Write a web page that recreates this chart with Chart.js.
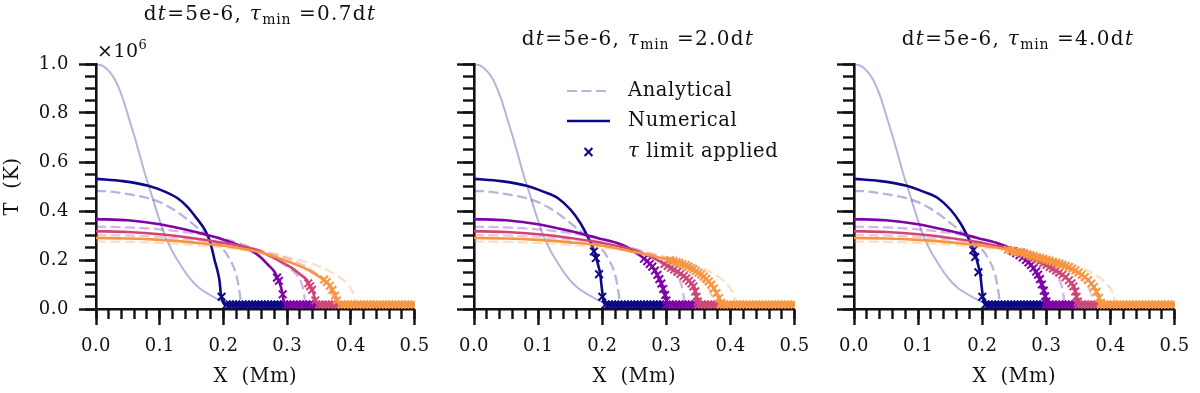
<!DOCTYPE html>
<html><head><meta charset="utf-8">
<script src="https://cdn.jsdelivr.net/npm/chart.js@4.4.1/dist/chart.umd.min.js"></script>
<style>
html,body{margin:0;padding:0;background:#fff;}
#wrap{position:relative;width:1200px;height:393px;overflow:hidden;background:#fff;font-family:'DejaVu Serif',serif;color:#111;}
canvas{position:absolute;top:0;}
.title{position:absolute;font-size:20px;letter-spacing:1.3px;white-space:nowrap;transform:translateX(-50%);line-height:24px;}
.title sub{font-size:14px;vertical-align:-4px;line-height:0;letter-spacing:0.8px;}
.mult{position:absolute;left:97px;top:38px;font-size:19px;letter-spacing:0.5px;line-height:24px;white-space:nowrap;}
.mult sup{font-size:13px;vertical-align:8px;line-height:0;}
</style></head>
<body><div id="wrap">
<canvas id="c1" width="440" height="393" style="left:0px"></canvas>
<canvas id="c2" width="380" height="393" style="left:440px"></canvas>
<canvas id="c3" width="380" height="393" style="left:820px"></canvas>
<div class="title" style="left:260px;top:1px">d<i>t</i>=5e-6, <i>τ</i><sub>min</sub> =0.7d<i>t</i></div>
<div class="title" style="left:638px;top:26px">d<i>t</i>=5e-6, <i>τ</i><sub>min</sub> =2.0d<i>t</i></div>
<div class="title" style="left:1018px;top:26px">d<i>t</i>=5e-6, <i>τ</i><sub>min</sub> =4.0d<i>t</i></div>
<div class="mult">×10<sup>6</sup></div>
</div>
<script>
// ---------- tick values & labels ----------
const xMajorTicks = [0, 0.1, 0.2, 0.3, 0.4, 0.5];
const xTickLabels = ['0.0', '0.1', '0.2', '0.3', '0.4', '0.5'];
const xMinorTicks = [0,0.02,0.04,0.06,0.08,0.1,0.12,0.14,0.16,0.18,0.2,0.22,0.24,0.26,0.28,0.3,0.32,0.34,0.36,0.38,0.4,0.42,0.44,0.46,0.48,0.5];
const yMajorTicks = [0, 0.2, 0.4, 0.6, 0.8, 1.0];
const yTickLabels = ['0.0', '0.2', '0.4', '0.6', '0.8', '1.0'];
const yMinorTicks = [0,0.05,0.1,0.15,0.2,0.25,0.3,0.35,0.4,0.45,0.5,0.55,0.6,0.65,0.7,0.75,0.8,0.85,0.9,0.95,1.0];

// ---------- data: [X (Mm), T (1e6 K)] ----------
const initialT = [[0,1.0],[0.01,0.993],[0.021,0.969],[0.03,0.935],[0.042,0.86],[0.052,0.775],[0.062,0.69],[0.07,0.615],[0.077,0.55],[0.085,0.485],[0.092,0.425],[0.1,0.36],[0.108,0.3],[0.115,0.26],[0.123,0.22],[0.133,0.178],[0.143,0.139],[0.153,0.108],[0.163,0.084],[0.174,0.065],[0.184,0.05],[0.192,0.038],[0.2,0.029],[0.21,0.021],[0.22,0.018],[0.5,0.017]];

const anaNavy = [[0,0.482],[0.02,0.48],[0.042,0.472],[0.062,0.463],[0.082,0.452],[0.1,0.436],[0.115,0.416],[0.133,0.386],[0.153,0.345],[0.173,0.302],[0.185,0.278],[0.194,0.258],[0.203,0.232],[0.209,0.207],[0.215,0.177],[0.219,0.148],[0.222,0.118],[0.224,0.088],[0.226,0.055],[0.227,0.03],[0.228,0.017],[0.5,0.017]];
const anaPurple = [[0,0.336],[0.05,0.333],[0.1,0.325],[0.15,0.31],[0.2,0.287],[0.25,0.245],[0.27,0.222],[0.29,0.19],[0.305,0.163],[0.315,0.14],[0.32,0.12],[0.324,0.092],[0.326,0.066],[0.3275,0.038],[0.328,0.017],[0.5,0.017]];
const anaPink = [[0,0.302],[0.05,0.3],[0.1,0.294],[0.15,0.283],[0.2,0.267],[0.25,0.245],[0.3,0.207],[0.33,0.172],[0.35,0.135],[0.36,0.108],[0.367,0.08],[0.371,0.05],[0.374,0.025],[0.375,0.017],[0.5,0.017]];
const anaOrange = [[0,0.275],[0.05,0.274],[0.1,0.27],[0.15,0.262],[0.2,0.25],[0.25,0.235],[0.3,0.212],[0.33,0.192],[0.356,0.167],[0.375,0.142],[0.388,0.118],[0.397,0.093],[0.403,0.068],[0.406,0.043],[0.408,0.02],[0.409,0.017],[0.5,0.017]];

// panel 1 (tau_min = 0.7 dt)
const p1Navy = [[0,0.531],[0.042,0.522],[0.082,0.503],[0.108,0.479],[0.128,0.452],[0.143,0.418],[0.158,0.37],[0.171,0.322],[0.179,0.275],[0.183,0.234],[0.186,0.2],[0.191,0.152],[0.194,0.111],[0.196,0.057],[0.199,0.03],[0.202,0.018],[0.5,0.018]];
const p1NavyMk = [[0.197,0.05]];
const p1Purple = [[0,0.367],[0.05,0.362],[0.1,0.346],[0.15,0.318],[0.2,0.283],[0.234,0.25],[0.25,0.228],[0.26,0.207],[0.27,0.18],[0.28,0.152],[0.285,0.125],[0.29,0.091],[0.293,0.057],[0.295,0.026],[0.297,0.018],[0.5,0.018]];
const p1PurpleMk = [[0.284,0.128],[0.287,0.115],[0.293,0.06]];
const p1Pink = [[0,0.318],[0.05,0.314],[0.1,0.305],[0.15,0.29],[0.2,0.27],[0.234,0.254],[0.255,0.238],[0.275,0.214],[0.295,0.186],[0.31,0.163],[0.32,0.142],[0.331,0.118],[0.336,0.093],[0.341,0.064],[0.344,0.037],[0.347,0.02],[0.349,0.018],[0.5,0.018]];
const p1PinkMk = [[0.333,0.105],[0.336,0.093],[0.339,0.078],[0.344,0.035]];
const p1Orange = [[0,0.29],[0.05,0.288],[0.1,0.282],[0.15,0.272],[0.2,0.258],[0.22,0.25],[0.25,0.236],[0.27,0.222],[0.3,0.195],[0.32,0.175],[0.335,0.157],[0.346,0.139],[0.355,0.124],[0.361,0.111],[0.367,0.095],[0.371,0.078],[0.376,0.048],[0.379,0.03],[0.382,0.019],[0.5,0.018]];
const p1OrangeMk = [[0.358,0.12],[0.362,0.11],[0.367,0.095],[0.371,0.078],[0.375,0.055],[0.378,0.035]];

// panel 2 (tau_min = 2.0 dt)
const p2Navy = [[0,0.531],[0.042,0.522],[0.082,0.503],[0.108,0.479],[0.131,0.452],[0.151,0.404],[0.166,0.35],[0.176,0.302],[0.182,0.27],[0.187,0.238],[0.191,0.205],[0.194,0.175],[0.197,0.14],[0.199,0.091],[0.201,0.05],[0.203,0.025],[0.205,0.018],[0.5,0.018]];
const p2NavyMk = [[0.187,0.235],[0.19,0.208],[0.195,0.142],[0.2,0.05]];
const p2Purple = [[0,0.367],[0.05,0.362],[0.1,0.346],[0.15,0.318],[0.192,0.29],[0.222,0.27],[0.24,0.25],[0.258,0.22],[0.268,0.2],[0.278,0.173],[0.286,0.139],[0.293,0.098],[0.298,0.057],[0.301,0.023],[0.303,0.018],[0.5,0.018]];
const p2PurpleMk = [[0.265,0.205],[0.27,0.195],[0.274,0.184],[0.278,0.173],[0.282,0.157],[0.286,0.139],[0.289,0.122],[0.292,0.104],[0.295,0.082],[0.298,0.057],[0.3,0.035]];
const p2Pink = [[0,0.318],[0.05,0.314],[0.1,0.305],[0.15,0.29],[0.2,0.27],[0.25,0.24],[0.275,0.214],[0.293,0.19],[0.313,0.16],[0.329,0.132],[0.339,0.105],[0.343,0.088],[0.346,0.064],[0.349,0.03],[0.351,0.018],[0.5,0.018]];
const p2PinkMk = [[0.297,0.184],[0.302,0.176],[0.307,0.168],[0.312,0.161],[0.317,0.152],[0.322,0.143],[0.327,0.135],[0.331,0.125],[0.335,0.115],[0.339,0.104],[0.342,0.092],[0.345,0.072],[0.347,0.05],[0.349,0.03]];
const p2Orange = [[0,0.29],[0.05,0.288],[0.1,0.282],[0.15,0.272],[0.2,0.258],[0.243,0.236],[0.27,0.222],[0.293,0.207],[0.319,0.191],[0.333,0.177],[0.344,0.159],[0.355,0.14],[0.364,0.118],[0.37,0.1],[0.374,0.084],[0.379,0.06],[0.382,0.044],[0.385,0.023],[0.387,0.018],[0.5,0.018]];
const p2OrangeMk = [[0.306,0.2],[0.311,0.196],[0.316,0.192],[0.32,0.188],[0.325,0.183],[0.33,0.179],[0.334,0.173],[0.338,0.167],[0.342,0.162],[0.346,0.155],[0.35,0.148],[0.354,0.141],[0.358,0.132],[0.362,0.123],[0.366,0.112],[0.37,0.1],[0.374,0.084],[0.378,0.065],[0.382,0.044],[0.385,0.025]];

// panel 3 (tau_min = 4.0 dt)
const p3Navy = [[0,0.531],[0.042,0.522],[0.082,0.503],[0.108,0.479],[0.131,0.452],[0.151,0.404],[0.166,0.35],[0.176,0.302],[0.182,0.27],[0.187,0.238],[0.191,0.205],[0.194,0.175],[0.197,0.14],[0.199,0.091],[0.201,0.05],[0.203,0.025],[0.205,0.018],[0.5,0.018]];
const p3NavyMk = [[0.186,0.24],[0.189,0.212],[0.194,0.15],[0.2,0.05]];
const p3Purple = [[0,0.367],[0.05,0.362],[0.1,0.346],[0.15,0.318],[0.192,0.29],[0.222,0.27],[0.24,0.252],[0.258,0.22],[0.268,0.2],[0.278,0.173],[0.286,0.139],[0.293,0.098],[0.298,0.057],[0.301,0.023],[0.303,0.018],[0.5,0.018]];
const p3PurpleMk = [[0.248,0.236],[0.253,0.228],[0.258,0.22],[0.263,0.21],[0.268,0.2],[0.272,0.19],[0.276,0.18],[0.28,0.167],[0.284,0.153],[0.287,0.14],[0.29,0.122],[0.293,0.1],[0.296,0.075],[0.298,0.052],[0.3,0.03]];
const p3Pink = [[0,0.318],[0.05,0.314],[0.1,0.305],[0.15,0.29],[0.2,0.27],[0.25,0.24],[0.275,0.214],[0.293,0.19],[0.313,0.16],[0.329,0.132],[0.339,0.105],[0.343,0.088],[0.346,0.064],[0.349,0.03],[0.351,0.018],[0.5,0.018]];
const p3PinkMk = [[0.26,0.232],[0.265,0.227],[0.27,0.221],[0.275,0.214],[0.28,0.208],[0.285,0.201],[0.29,0.194],[0.295,0.187],[0.3,0.18],[0.305,0.172],[0.31,0.165],[0.315,0.157],[0.32,0.148],[0.325,0.14],[0.33,0.13],[0.335,0.117],[0.339,0.105],[0.342,0.092],[0.345,0.072],[0.347,0.05],[0.349,0.03]];
const p3Orange = [[0,0.29],[0.05,0.288],[0.1,0.282],[0.15,0.272],[0.2,0.258],[0.24,0.242],[0.27,0.223],[0.3,0.201],[0.33,0.176],[0.35,0.149],[0.36,0.13],[0.37,0.104],[0.378,0.07],[0.382,0.045],[0.385,0.025],[0.387,0.018],[0.5,0.018]];
const p3OrangeMk = [[0.24,0.242],[0.245,0.239],[0.25,0.236],[0.255,0.233],[0.26,0.23],[0.265,0.227],[0.27,0.223],[0.275,0.22],[0.28,0.216],[0.285,0.212],[0.29,0.209],[0.295,0.205],[0.3,0.201],[0.305,0.197],[0.31,0.193],[0.315,0.189],[0.32,0.185],[0.325,0.181],[0.33,0.176],[0.335,0.171],[0.34,0.164],[0.345,0.157],[0.35,0.149],[0.355,0.14],[0.36,0.13],[0.365,0.118],[0.37,0.104],[0.374,0.09],[0.378,0.07],[0.382,0.045],[0.385,0.025]];

// tau-limit markers along the background floor
const FLOOR_T = 0.018;
const floorNavyX = [0.205,0.21,0.215,0.22,0.225,0.23,0.235,0.24,0.245,0.25,0.255,0.26,0.265,0.27,0.275,0.28,0.285,0.29,0.295];
const floorPurpleX = [0.3,0.305,0.31,0.315,0.32,0.325,0.33,0.335,0.34,0.345];
const floorPinkX = [0.35,0.355,0.36,0.365,0.37,0.375,0.38];
const floorOrangeX = [0.385,0.39,0.395,0.4,0.405,0.41,0.415,0.42,0.425,0.43,0.435,0.44,0.445,0.45,0.455,0.46,0.465,0.47,0.475,0.48,0.485,0.49,0.495,0.5];

// ---------- styles ----------
const NAVY = '#0d0887', PURPLE = '#7e03a8', PINK = '#cc4778', ORANGE = '#f89540';
const faint = {};
faint[NAVY] = 'rgba(13,8,135,0.3)';
faint[PURPLE] = 'rgba(126,3,168,0.3)';
faint[PINK] = 'rgba(204,71,120,0.3)';
faint[ORANGE] = 'rgba(248,149,64,0.3)';
const INK = '#111';
const FONT = "'DejaVu Serif', serif";

Chart.defaults.font.family = FONT;
Chart.defaults.color = INK;

const toXY = arr => arr.map(p => ({x: p[0], y: p[1]}));
const floorXY = xs => xs.map(x => ({x: x, y: FLOOR_T}));

Chart.register({id: 'spacing', beforeDraw(chart) { chart.ctx.letterSpacing = '0.5px'; }});

function lineDs(data, color, width, dash) {
  return {type: 'line', data: toXY(data), borderColor: color, backgroundColor: color,
    borderWidth: width, borderDash: dash || [], pointRadius: 0, pointHoverRadius: 0,
    cubicInterpolationMode: 'monotone', fill: false};
}
function markDs(data, color) {
  return {type: 'line', data: data, showLine: false, pointStyle: 'crossRot',
    pointRadius: 5.4, pointBorderWidth: 2, pointBorderColor: color,
    pointBackgroundColor: color, pointHoverRadius: 0};
}

const legendPlugin = {
  id: 'panelLegend',
  afterDraw(chart) {
    const ctx = chart.ctx, ca = chart.chartArea;
    const x0 = ca.left + 93, x1 = ca.left + 136, xt = ca.left + 154;
    const rows = [91, 121, 152];
    ctx.save();
    ctx.letterSpacing = '0.6px';
    ctx.lineCap = 'butt';
    ctx.strokeStyle = faint[NAVY]; ctx.lineWidth = 2.2; ctx.setLineDash([10, 4.5]);
    ctx.beginPath(); ctx.moveTo(x0, rows[0]); ctx.lineTo(x1, rows[0]); ctx.stroke();
    ctx.setLineDash([]);
    ctx.strokeStyle = NAVY; ctx.lineWidth = 2.5;
    ctx.beginPath(); ctx.moveTo(x0, rows[1]); ctx.lineTo(x1, rows[1]); ctx.stroke();
    const mx = (x0 + x1) / 2, my = rows[2], r = 3.9;
    ctx.lineWidth = 2.1;
    ctx.beginPath(); ctx.moveTo(mx - r, my - r); ctx.lineTo(mx + r, my + r);
    ctx.moveTo(mx - r, my + r); ctx.lineTo(mx + r, my - r); ctx.stroke();
    ctx.fillStyle = INK; ctx.textBaseline = 'middle'; ctx.textAlign = 'left';
    ctx.font = "19.5px " + FONT;
    ctx.fillText('Analytical', xt, rows[0]);
    ctx.fillText('Numerical', xt, rows[1]);
    ctx.font = "italic 19.5px " + FONT;
    ctx.fillText('τ', xt, rows[2]);
    const w = ctx.measureText('τ').width;
    ctx.font = "19.5px " + FONT;
    ctx.fillText(' limit applied', xt + w, rows[2]);
    ctx.restore();
  }
};

function buildPanel(id, panel) {
  const series = [
    {ana: anaNavy, num: panel.navy, mk: panel.navyMk, floor: floorNavyX, color: NAVY},
    {ana: anaPurple, num: panel.purple, mk: panel.purpleMk, floor: floorPurpleX, color: PURPLE},
    {ana: anaPink, num: panel.pink, mk: panel.pinkMk, floor: floorPinkX, color: PINK},
    {ana: anaOrange, num: panel.orange, mk: panel.orangeMk, floor: floorOrangeX, color: ORANGE}
  ];
  const datasets = [lineDs(initialT, faint[NAVY], 2)];
  series.forEach(s => {
    datasets.push(lineDs(s.ana, faint[s.color], 2.3, [10, 4.5]));
    datasets.push(lineDs(s.num, s.color, 2.6));
    datasets.push(markDs(toXY(s.mk).concat(floorXY(s.floor)), s.color));
  });
  datasets.forEach((d, i) => { d.order = datasets.length - i; });

  const tickGrid = len => ({display: true, drawOnChartArea: false, drawTicks: true,
    tickLength: len, tickWidth: 2.4, tickColor: INK});

  new Chart(document.getElementById(id), {
    type: 'line',
    data: {datasets: datasets},
    plugins: panel.legend ? [legendPlugin] : [],
    options: {
      responsive: false, animation: false,
      layout: {padding: panel.padding},
      plugins: {legend: {display: false}, tooltip: {enabled: false}},
      scales: {
        x: {type: 'linear', position: 'bottom', min: 0, max: 0.5, weight: 1,
          afterBuildTicks: s => { s.ticks = xMajorTicks.map(v => ({value: v})); },
          afterFit: s => { s.height = 84; },
          ticks: {autoSkip: false, maxRotation: 0, minRotation: 0, padding: 11,
            font: {size: 18}, color: INK, callback: (v, i) => xTickLabels[i]},
          grid: tickGrid(16),
          border: {display: true, width: 2.6, color: INK},
          title: {display: true, text: 'X  (Mm)', color: INK, font: {size: 19.5},
            padding: {top: 0, bottom: 4}}},
        xMinor: {type: 'linear', position: 'bottom', min: 0, max: 0.5, weight: 0,
          afterBuildTicks: s => { s.ticks = xMinorTicks.map(v => ({value: v})); },
          afterFit: s => { s.height = 0; },
          ticks: {autoSkip: false, maxRotation: 0, minRotation: 0, callback: () => ''},
          grid: tickGrid(10),
          border: {display: false}},
        y: {type: 'linear', position: 'left', min: 0, max: 1.0, weight: 1,
          afterBuildTicks: s => { s.ticks = yMajorTicks.map(v => ({value: v})); },
          afterFit: s => { s.width = panel.yWidth; },
          ticks: {autoSkip: false, padding: 10, font: {size: 18}, color: INK,
            callback: (v, i) => panel.yLabels ? yTickLabels[i] : ''},
          grid: tickGrid(17),
          border: {display: true, width: 2.6, color: INK},
          title: {display: panel.yLabels, text: 'T  (K)', color: INK, font: {size: 19.5},
            padding: {top: 1, bottom: 0}}},
        yMinor: {type: 'linear', position: 'left', min: 0, max: 1.0, weight: 0,
          afterBuildTicks: s => { s.ticks = yMinorTicks.map(v => ({value: v})); },
          afterFit: s => { s.width = 0; },
          ticks: {autoSkip: false, callback: () => ''},
          grid: tickGrid(11),
          border: {display: false}}
      }
    }
  });
}

buildPanel('c1', {navy: p1Navy, navyMk: p1NavyMk, purple: p1Purple, purpleMk: p1PurpleMk,
  pink: p1Pink, pinkMk: p1PinkMk, orange: p1Orange, orangeMk: p1OrangeMk,
  padding: {left: 0, right: 16, top: 64, bottom: 0}, yWidth: 96, yLabels: true});
buildPanel('c2', {navy: p2Navy, navyMk: p2NavyMk, purple: p2Purple, purpleMk: p2PurpleMk,
  pink: p2Pink, pinkMk: p2PinkMk, orange: p2Orange, orangeMk: p2OrangeMk,
  padding: {left: 17, right: 17, top: 64, bottom: 0}, yWidth: 17, yLabels: false, legend: true});
buildPanel('c3', {navy: p3Navy, navyMk: p3NavyMk, purple: p3Purple, purpleMk: p3PurpleMk,
  pink: p3Pink, pinkMk: p3PinkMk, orange: p3Orange, orangeMk: p3OrangeMk,
  padding: {left: 17, right: 18, top: 64, bottom: 0}, yWidth: 17, yLabels: false});
</script>
</body></html>
